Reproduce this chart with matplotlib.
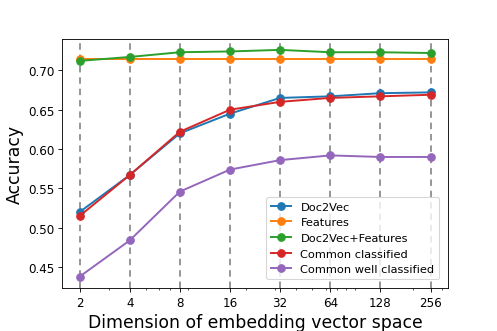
import numpy as np
import matplotlib
matplotlib.use("Agg")
import matplotlib.pyplot as plt
from matplotlib.ticker import LogLocator, NullFormatter

# embedding dimensions and accuracies
dims = [2, 4, 8, 16, 32, 64, 128, 256]
doc2vec = [0.520, 0.567, 0.620, 0.645, 0.665, 0.667, 0.671, 0.672]
features = [0.715, 0.715, 0.715, 0.715, 0.715, 0.715, 0.715, 0.715]
doc2vec_features = [0.712, 0.717, 0.723, 0.724, 0.726, 0.723, 0.723, 0.722]
common = [0.515, 0.567, 0.622, 0.650, 0.660, 0.665, 0.667, 0.669]
common_well = [0.438, 0.484, 0.546, 0.574, 0.586, 0.592, 0.590, 0.590]
labels = ['Doc2Vec', 'Features', 'Doc2Vec+Features', 'Common classified', 'Common well classified']

fig, ax = plt.subplots(figsize=(6.4, 4.267), dpi=77.8)
fig.subplots_adjust(left=0.1245, right=0.9, bottom=0.1295, top=0.881)

for series, lab in zip([doc2vec, features, doc2vec_features, common, common_well], labels):
    ax.plot(dims, series, marker='o', markersize=7, linewidth=1.8, label=lab)

ax.set_xscale('log', base=2)
ax.set_xticks(dims)
ax.set_xticklabels([str(d) for d in dims])
# old-style minor ticks (base 10 subs)
ax.xaxis.set_minor_locator(LogLocator(base=10, subs=np.arange(2, 10), numticks=20))
ax.xaxis.set_minor_formatter(NullFormatter())
ax.tick_params(labelsize=11)
ax.grid(axis='x', which='major', linestyle=(0, (4, 3)), color='gray', linewidth=1.5)
ax.set_xlabel('Dimension of embedding vector space', fontsize=16)
ax.set_ylabel('Accuracy', fontsize=16)
ax.legend(loc='lower right', fontsize=10.5, borderaxespad=0.8, handlelength=1.8,
          labelspacing=0.5)

plt.savefig('out.png')
